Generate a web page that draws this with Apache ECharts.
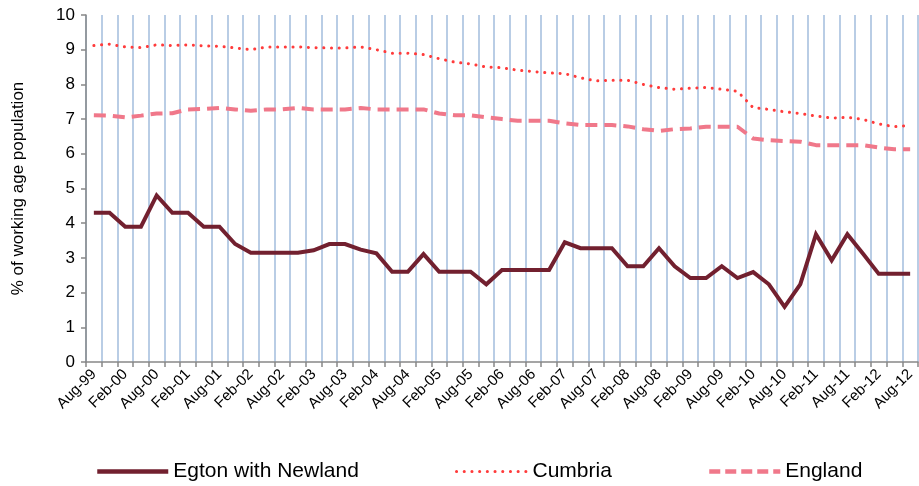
<!DOCTYPE html>
<html><head><meta charset="utf-8">
<script src="https://cdn.jsdelivr.net/npm/echarts@6/dist/echarts.min.js"></script>
<style>html,body{margin:0;padding:0;background:#fff}#c{width:919px;height:486px}</style>
</head><body><div id="c"></div>
<script>
const categories = ["Aug-99","Nov-99","Feb-00","May-00","Aug-00","Nov-00","Feb-01","May-01","Aug-01","Nov-01","Feb-02","May-02","Aug-02","Nov-02","Feb-03","May-03","Aug-03","Nov-03","Feb-04","May-04","Aug-04","Nov-04","Feb-05","May-05","Aug-05","Nov-05","Feb-06","May-06","Aug-06","Nov-06","Feb-07","May-07","Aug-07","Nov-07","Feb-08","May-08","Aug-08","Nov-08","Feb-09","May-09","Aug-09","Nov-09","Feb-10","May-10","Aug-10","Nov-10","Feb-11","May-11","Aug-11","Nov-11","Feb-12","May-12","Aug-12"];
const egton = [4.3,4.3,3.9,3.9,4.8,4.3,4.3,3.9,3.9,3.4,3.15,3.15,3.15,3.15,3.22,3.4,3.4,3.24,3.13,2.6,2.6,3.11,2.6,2.6,2.6,2.24,2.65,2.65,2.65,2.65,3.45,3.28,3.28,3.28,2.76,2.76,3.28,2.76,2.42,2.42,2.76,2.42,2.59,2.24,1.59,2.24,3.68,2.93,3.68,3.12,2.54,2.54,2.54];
const cumbria = [9.12,9.16,9.08,9.06,9.14,9.12,9.14,9.11,9.1,9.05,9.0,9.08,9.08,9.08,9.06,9.05,9.05,9.08,9.0,8.9,8.9,8.86,8.74,8.64,8.59,8.5,8.48,8.41,8.37,8.33,8.31,8.19,8.1,8.12,8.12,8.0,7.91,7.86,7.89,7.91,7.86,7.8,7.33,7.28,7.21,7.16,7.09,7.03,7.05,6.99,6.86,6.78,6.82];
const england = [7.11,7.1,7.05,7.1,7.16,7.17,7.28,7.29,7.32,7.28,7.24,7.28,7.28,7.32,7.28,7.28,7.28,7.32,7.28,7.28,7.28,7.28,7.16,7.11,7.11,7.05,7.0,6.95,6.95,6.95,6.88,6.83,6.83,6.83,6.79,6.71,6.66,6.71,6.73,6.78,6.78,6.78,6.44,6.39,6.37,6.35,6.25,6.25,6.25,6.25,6.18,6.13,6.13];
const yTicks = [0,1,2,3,4,5,6,7,8,9,10];

const font = "'Liberation Sans', Arial, sans-serif";
const C_EGTON = '#72202F', C_CUMB = '#FF3B3B', C_ENG = '#F0788A';
const chart = echarts.init(document.getElementById('c'), null, {renderer:'canvas'});
function mkLegend(left, name, lineStyle) {
  return {
    show: true, orient: 'horizontal', top: 456, left: left, itemWidth: 71, itemHeight: 14, itemGap: 10,
    itemStyle: {opacity: 0, borderWidth: 0},
    lineStyle: lineStyle,
    textStyle: {fontFamily: font, fontSize: 21, color: '#000'},
    data: [name]
  };
}
chart.setOption({
  animation: false,
  grid: {left: 86, right: 1, top: 15, bottom: 124, containLabel: false},
  legend: [
    mkLegend(90, 'Egton with Newland', {color: C_EGTON, width: 4.5}),
    mkLegend(450, 'Cumbria', {color: C_CUMB, width: 3, type: [0.1, 7.6], cap: 'round'}),
    mkLegend(702, 'England', {color: C_ENG, width: 4.5, type: [11, 5]})
  ],
  xAxis: {
    type: 'category', data: categories, boundaryGap: true,
    axisLine: {lineStyle: {color: '#888', width: 1.5}},
    axisTick: {show: true, interval: 0, length: 5, lineStyle: {color: '#888', width: 1.5}},
    axisLabel: {interval: 1, rotate: 45, fontFamily: font, fontSize: 15, color: '#000', margin: 10},
    splitLine: {show: true, interval: 0, lineStyle: {color: '#B9CDE5', width: 2}}
  },
  yAxis: {
    type: 'value', min: yTicks[0], max: yTicks[yTicks.length-1], interval: 1,
    name: '% of working age population', nameLocation: 'middle', nameGap: 59, nameRotate: 90,
    nameTextStyle: {fontFamily: font, fontSize: 17, color: '#000'},
    axisLine: {show: true, lineStyle: {color: '#888', width: 1.5}},
    axisTick: {show: true, length: 5, lineStyle: {color: '#888', width: 1.5}},
    axisLabel: {fontFamily: font, fontSize: 17, color: '#000', margin: 11},
    splitLine: {show: false}
  },
  series: [
    {name: 'Egton with Newland', type: 'line', data: egton, showSymbol: false, symbol: 'none',
     lineStyle: {color: C_EGTON, width: 4, join: 'miter'}, itemStyle: {color: C_EGTON}},
    {name: 'Cumbria', type: 'line', data: cumbria, showSymbol: false, symbol: 'none',
     lineStyle: {color: C_CUMB, width: 3, type: [0.1, 7.6], cap: 'round'}, itemStyle: {color: C_CUMB}},
    {name: 'England', type: 'line', data: england, showSymbol: false, symbol: 'none',
     lineStyle: {color: C_ENG, width: 4, type: [12, 7]}, itemStyle: {color: C_ENG}}
  ]
});
</script></body></html>
